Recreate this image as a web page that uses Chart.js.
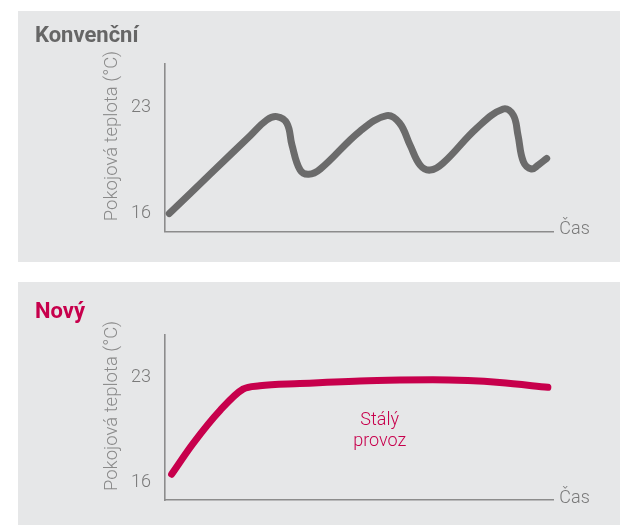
<!DOCTYPE html>
<html>
<head>
<meta charset="utf-8">
<script src="https://cdn.jsdelivr.net/npm/chart.js@4.4.1/dist/chart.umd.min.js"></script>
<style>
  html, body { margin: 0; padding: 0; background: #ffffff; }
  body { width: 620px; height: 525px; position: relative; overflow: hidden; }
  .panel { position: absolute; left: 18px; width: 602px; background: #e6e7e8; }
  #p1 { top: 11px; height: 251px; }
  #p2 { top: 282px; height: 243px; }
  canvas { display: block; }
</style>
</head>
<body>
<div class="panel" id="p1"><canvas id="c1" width="602" height="251"></canvas></div>
<div class="panel" id="p2"><canvas id="c2" width="602" height="243"></canvas></div>
<script>
// Room temperature over time (time in arbitrary units 0–100)
const timeConventional = [1.1, 12.0, 22.0, 26.2, 28.8, 31.4, 32.7, 34.8, 37.0, 40.0, 50.3, 57.1, 60.4, 63.1, 65.7, 68.3, 71.6, 80.3, 87.1, 89.7, 90.9, 92.3, 94.4, 96.1, 98.3];
const tempConventional = [16.0, 18.68, 21.14, 22.16, 22.38, 21.94, 20.51, 18.86, 18.58, 18.93, 21.44, 22.45, 21.96, 20.51, 19.19, 18.86, 19.32, 21.63, 22.88, 22.48, 21.17, 19.41, 18.93, 19.19, 19.63];

const timeNew = [1.7, 7.3, 14.2, 20.1, 24.4, 34.7, 50.2, 60.5, 69.0, 78.0, 86.2, 98.6];
const tempNew = [16.54, 18.62, 20.81, 22.23, 22.45, 22.6, 22.78, 22.84, 22.86, 22.8, 22.67, 22.35];

const yTickValues = [16, 23];
const yAxisTitle = 'Pokojová teplota (°C)';
const xAxisLabel = 'Čas';
const steadyLabel = ['Stálý', 'provoz'];

const GREY = '#6b6b6b';
const CRIMSON = '#c7004c';
const AXIS = '#8c8c8c';
const FONT = 'Roboto, "Open Sans", sans-serif';

function points(xs, ys) {
  return xs.map((x, i) => ({ x: x, y: ys[i] }));
}

// Draws the panel heading, the rotated y-axis title, the x-axis label and an optional note
const decor = {
  id: 'decor',
  afterDraw(chart, args, opts) {
    const ctx = chart.ctx;
    const area = chart.chartArea;
    const ys = chart.scales.y;
    const xs = chart.scales.x;
    ctx.save();

    // heading
    ctx.fillStyle = opts.headingColor;
    ctx.font = 'bold 22px ' + FONT;
    ctx.textAlign = 'left';
    ctx.textBaseline = 'alphabetic';
    ctx.fillText(opts.heading, 17, opts.headingBaseline);

    // y-axis title
    ctx.save();
    ctx.translate(area.left - 53, ys.getPixelForValue(21.1));
    ctx.rotate(-Math.PI / 2);
    ctx.fillStyle = '#8a8a8a';
    ctx.font = '300 18.5px ' + FONT;
    ctx.textAlign = 'center';
    ctx.textBaseline = 'middle';
    ctx.fillText(yAxisTitle, 0, 0);
    ctx.restore();

    // x-axis label
    ctx.fillStyle = '#7a7a7a';
    ctx.font = '300 18px ' + FONT;
    ctx.textAlign = 'left';
    ctx.textBaseline = 'middle';
    ctx.fillText(xAxisLabel, area.right + 6, area.bottom - 2);

    // note inside the plot
    if (opts.note) {
      ctx.fillStyle = opts.noteColor;
      ctx.font = '300 18px ' + FONT;
      ctx.textAlign = 'center';
      const cx = xs.getPixelForValue(55.3);
      const cy = ys.getPixelForValue(20.15);
      opts.note.forEach((line, i) => ctx.fillText(line, cx, cy + i * 21.5));
    }
    ctx.restore();
  }
};

function makeChart(canvasId, xs, ys, color, heading, headingBaseline, xAxisHeight, note, curve) {
  return new Chart(document.getElementById(canvasId), {
    type: 'line',
    data: {
      datasets: [{
        data: points(xs, ys),
        borderColor: color,
        borderWidth: 7,
        borderCapStyle: 'round',
        borderJoinStyle: 'round',
        pointRadius: 0,
        cubicInterpolationMode: curve,
        tension: 0.4,
        fill: false
      }]
    },
    options: {
      responsive: false,
      animation: false,
      devicePixelRatio: 1,
      layout: { padding: { left: 0, right: 66.7, top: 53, bottom: 0 } },
      plugins: {
        legend: { display: false },
        tooltip: { enabled: false },
        decor: { heading: heading, headingColor: color === GREY ? '#666666' : color, headingBaseline: headingBaseline, note: note, noteColor: CRIMSON }
      },
      scales: {
        x: {
          type: 'linear',
          min: 0,
          max: 100,
          ticks: { display: false },
          grid: { display: false, drawTicks: false },
          border: { display: true, color: AXIS, width: 1.6 },
          afterFit(scale) { scale.height = xAxisHeight; }
        },
        y: {
          type: 'linear',
          min: 14.8,
          max: 25.85,
          afterBuildTicks(scale) { scale.ticks = yTickValues.map(v => ({ value: v })); },
          ticks: {
            color: '#7a7a7a',
            font: { family: FONT, size: 18, weight: '300' },
            padding: 14
          },
          grid: { display: false, drawTicks: false },
          border: { display: true, color: AXIS, width: 1.6 },
          afterFit(scale) { scale.width = 147; }
        }
      }
    },
    plugins: [decor]
  });
}

makeChart('c1', timeConventional, tempConventional, GREY, 'Konvenční', 30.7, 30.3, null, 'default');
makeChart('c2', timeNew, tempNew, CRIMSON, 'Nový', 35.5, 22.5, steadyLabel, 'monotone');
</script>
</body>
</html>
